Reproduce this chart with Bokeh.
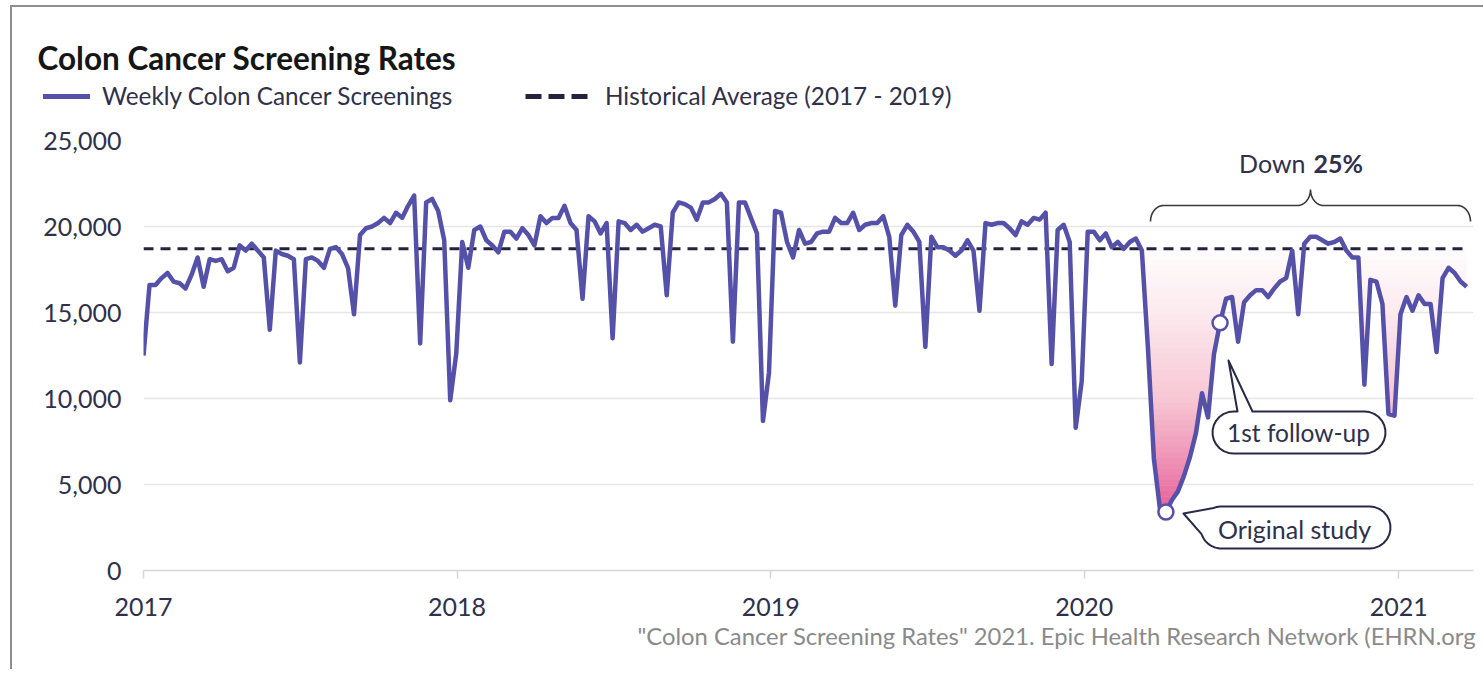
import numpy as np
import pandas as pd
from bokeh.plotting import figure
from bokeh.layouts import column
from bokeh.models import Label, Legend, LegendItem, FixedTicker, NumeralTickFormatter, Range1d
from bokeh.core.properties import value
from bokeh.embed import file_html
from bokeh.resources import INLINE

# ---------------- data (weekly colon cancer screenings) ----------------
weeks_2017 = [12500, 16600, 16600, 17000, 17300, 16800, 16700, 16400, 17200, 18200,
              16500, 18100, 18000, 18100, 17400, 17600, 18900, 18600, 19000, 18600,
              18200, 14000, 18600, 18400, 18300, 18100, 12100, 18100, 18200, 18000,
              17600, 18700, 18800, 18400, 17600, 14900, 19500, 19900, 20000, 20200,
              20500, 20200, 20800, 20500, 21200, 21800, 13200, 21400, 21600, 20900,
              19200, 9900]
weeks_2018 = [12600, 19100, 17600, 19800, 20000, 19200, 18900, 18500, 19700, 19700,
              19300, 19900, 19500, 18900, 20600, 20200, 20500, 20500, 21200, 20200,
              19800, 15800, 20600, 20300, 19600, 20200, 13500, 20300, 20200, 19800,
              20100, 19700, 19900, 20100, 20000, 16000, 20800, 21400, 21300, 21100,
              20400, 21400, 21400, 21600, 21900, 21400, 13300, 21400, 21400, 20500,
              19600, 8700]
weeks_2019 = [11500, 20900, 20800, 19100, 18200, 19800, 19000, 19100, 19600, 19700,
              19700, 20500, 20200, 20200, 20800, 19800, 20100, 20200, 20200, 20600,
              19400, 15400, 19500, 20100, 19700, 19100, 13000, 19400, 18800, 18800,
              18600, 18300, 18600, 19200, 18600, 15100, 20200, 20100, 20200, 20200,
              19900, 19500, 20300, 20100, 20500, 20400, 20800, 12000, 19800, 20100,
              19100, 8300]
weeks_2020 = [11000, 19700, 19700, 19200, 19600, 18800, 19100, 18700, 19100, 19300,
              18600, 13000, 6500, 3600, 3400, 4100, 4600, 5500, 6600, 8000,
              10300, 8900, 12600, 14400, 15800, 15900, 13300, 15600, 16000, 16300,
              16300, 15900, 16400, 16800, 17000, 18600, 14900, 19000, 19400, 19400,
              19200, 19000, 19100, 19300, 18600, 18200, 18200, 10800, 16900, 16800,
              15500, 9100, 9000]
weeks_2021 = [14900, 15900, 15100, 16000, 15500, 15500, 12700, 17000, 17600, 17300,
              16800, 16500]
historical_average = 18700
first_week = "2017-01-01"
year_labels = ["2017", "2018", "2019", "2020", "2021"]
y_tick_values = [0, 5000, 10000, 15000, 20000, 25000]
original_study_week = "2020-04-05"
follow_up_week = "2020-06-07"
covid_start = "2020-03-01"

# ---------------- derived ----------------
values = np.array(weeks_2017 + weeks_2018 + weeks_2019 + weeks_2020 + weeks_2021, dtype=float)
dates = pd.date_range(first_week, periods=len(values), freq="7D")
t = dates.values.astype("datetime64[ms]").astype("int64").astype(float)

def ms(d):
    return float(np.datetime64(pd.Timestamp(d), "ms").astype("int64"))

T0 = ms(first_week)
T1 = T0 + 1548 * 86400000.0
Y0, Y1 = 0, 25000

# page geometry (page px)
ML, MT = 12, 7              # content origin (after margin + 2px border)
W = 1471
HEAD_H = 118                # page y 7 .. 125
MAIN_TOP, MAIN_BOT = 125, 622
FOOT_H = 47
FL, FR, FT, FB = 143, 1473, 140, 570

def tx(px):
    return T0 + (px - FL) / (FR - FL) * (T1 - T0)

def vy(py):
    return (FB - py) / (FB - FT) * (Y1 - Y0) + Y0

PURPLE = "#5551a8"
NAVY = "#23233f"
TEXT = "#30304a"
FONT = "Lato"

# ---------------- header (title + legend) ----------------
head = figure(width=W, height=HEAD_H, x_range=Range1d(0, W), y_range=Range1d(HEAD_H, 0),
              output_backend="svg", toolbar_location=None, title=None,
              x_axis_location=None, y_axis_location=None, min_border=0)
head.frame_align = False
head.grid.visible = False
head.outline_line_color = None
head.text(x=[37 - ML], y=[57 - MT], text=["Colon Cancer Screening Rates"],
          text_font=value(FONT), text_font_size="31.5px", text_font_style="bold",
          text_color="#161616", text_baseline="middle", text_align="left")
leg_line = head.line(x=[-500, -490], y=[-500, -500], line_color=PURPLE, line_width=5,
                     line_cap="round")
leg_dash = head.line(x=[-500, -490], y=[-500, -500], line_color=NAVY, line_width=5,
                     line_dash="16 7")
for rend, label, gx, gw, so in [(leg_line, "Weekly Colon Cancer Screenings", 43, 47, 12),
                                 (leg_dash, "Historical Average (2017 - 2019)", 525, 65, 15)]:
    lg = Legend(items=[LegendItem(label=label, renderers=[rend])],
                location=(gx - ML, HEAD_H - (110 - MT)), orientation="horizontal",
                glyph_width=gw, glyph_height=24, label_height=24, label_standoff=so,
                padding=0, margin=0, spacing=0,
                border_line_color=None, background_fill_alpha=0,
                label_text_font=FONT, label_text_font_size="24.3px", label_text_color=TEXT)
    head.add_layout(lg, "center")

# ---------------- main chart ----------------
MAIN_H = MAIN_BOT - MAIN_TOP
p = figure(width=W, height=MAIN_H, x_axis_type="datetime",
           x_range=Range1d(T0, T1), y_range=Range1d(Y0, Y1),
           output_backend="svg", toolbar_location=None, title=None,
           min_border_left=FL - ML, min_border_right=ML + W - FR,
           min_border_top=FT - MAIN_TOP, min_border_bottom=MAIN_BOT - FB)
p.frame_align = False
p.outline_line_color = None

year_ticks = [ms(y + "-01-01") for y in year_labels]
p.xaxis.ticker = FixedTicker(ticks=year_ticks)
p.xaxis.major_label_overrides = {tk: lab for tk, lab in zip(year_ticks, year_labels)}
p.xaxis.axis_line_color = "#d6d6d6"
p.xaxis.axis_line_width = 1.5
p.xaxis.major_tick_line_color = "#d6d6d6"
p.xaxis.major_tick_line_width = 1.5
p.xaxis.major_tick_out = 8
p.xaxis.major_tick_in = 0
p.xaxis.minor_tick_line_color = None
p.xaxis.major_label_standoff = 19
p.xaxis.major_label_text_font = FONT
p.xaxis.major_label_text_font_size = "25px"
p.xaxis.major_label_text_color = TEXT

p.yaxis.ticker = FixedTicker(ticks=y_tick_values)
p.yaxis.formatter = NumeralTickFormatter(format="0,0")
p.yaxis.axis_line_color = None
p.yaxis.major_tick_line_color = None
p.yaxis.minor_tick_line_color = None
p.yaxis.major_label_standoff = 16
p.yaxis.major_label_text_font = FONT
p.yaxis.major_label_text_font_size = "25px"
p.yaxis.major_label_text_color = TEXT

p.xgrid.visible = False
p.ygrid.grid_line_color = "#e6e6e6"
p.ygrid.grid_line_width = 1.5

# gradient fill between the line and the historical average (2020 onwards)
mask = dates >= pd.Timestamp(covid_start)
tf = np.linspace(t[mask][0], t[mask][-1], 2400)
vf = np.interp(tf, t, values)
stops_v = [3000, 6000, 10000, 15000, historical_average]
stops_c = [(229, 86, 147), (238, 140, 178), (247, 199, 212), (252, 234, 238), (255, 252, 253)]

def grad(v):
    c = [int(round(np.interp(v, stops_v, [s[i] for s in stops_c]))) for i in range(3)]
    return "#%02x%02x%02x" % tuple(c)

levels = np.linspace(3000, historical_average, 50)
for a, b in zip(levels[:-1], levels[1:]):
    y1 = np.clip(vf, a, b)
    top = min(b + 40, historical_average)
    y2 = np.where(vf < b, top, b)
    p.varea(x=tf, y1=y1, y2=y2, fill_color=grad((a + b) / 2), fill_alpha=1)

p.line(x=[t[0], t[-1]], y=[historical_average, historical_average],
       line_color=NAVY, line_width=3, line_dash="10 7")
p.line(x=t, y=values, line_color=PURPLE, line_width=4.5, line_join="round")

# callout bubbles (page px converted to data space)
def arc(cx, cy, rx, ry, a0, a1, n=14):
    a = np.radians(np.linspace(a0, a1, n))
    return list(cx + rx * np.cos(a)), list(cy + ry * np.sin(a))

def bubble_os():
    xs, ys = [], []
    cxl, cxr, cy, r = 1221, 1369, 527, 21
    for seg in [arc(cxl, cy, r, r, 248, 270), arc(cxr, cy, r, r, 270, 450), arc(cxl, cy, r, r, 90, 161.6)]:
        xs += seg[0]; ys += seg[1]
    xs += [1183]; ys += [513]
    return xs, ys

def bubble_fu():
    xs, ys = [1252], [411]
    cxl, cxr, cy, r = 1233, 1364, 432, 21
    for seg in [arc(cxr, cy, r, r, 270, 450), arc(cxl, cy, r, r, 90, 270)]:
        xs += seg[0]; ys += seg[1]
    xs += [1237, 1228]; ys += [411, 360]
    return xs, ys

for bx, by in [bubble_os(), bubble_fu()]:
    p.patch(x=[tx(v) for v in bx], y=[vy(v) for v in by], fill_color="white",
            line_color="#2a2a45", line_width=2, line_join="round")

for wk in [original_study_week, follow_up_week]:
    i = dates.get_loc(pd.Timestamp(wk))
    p.scatter(x=[t[i]], y=[values[i]], size=15, fill_color="white",
              line_color=PURPLE, line_width=2.5)

# brace
L, R, C, yb, yh, yc, rx = 1150, 1470, 1310, 221, 205, 189, 13
bxs, bys = [], []
for seg in [arc(L + rx, yb, rx, yb - yh, 180, 270), arc(C - rx, yc, rx, yh - yc, 90, 0),
            arc(C + rx, yc, rx, yh - yc, 180, 90), arc(R - rx, yb, rx, yb - yh, 270, 360)]:
    bxs += seg[0]; bys += seg[1]
p.line(x=[tx(v) for v in bxs], y=[vy(v) for v in bys], line_color="#3a3a3a", line_width=1.6)

def lab(px, py, text, size="25px", color=TEXT, align="left", baseline="middle", style="normal"):
    p.add_layout(Label(x=tx(px), y=vy(py), text=text, text_font=FONT, text_font_size=size,
                       text_color=color, text_align=align, text_baseline=baseline,
                       text_font_style=style))

lab(1305, 162, "Down", align="right")
lab(1313, 162, "25%", align="left", style="bold")
lab(1298, 432, "1st follow-up", align="center", size="24.5px")
lab(1294, 528, "Original study", align="center")

# ---------------- footer (source) ----------------
foot = figure(width=W, height=FOOT_H, x_range=Range1d(0, W), y_range=Range1d(FOOT_H, 0),
              output_backend="svg", toolbar_location=None, title=None,
              x_axis_location=None, y_axis_location=None, min_border=0)
foot.frame_align = False
foot.grid.visible = False
foot.outline_line_color = None
foot.text(x=[637 - ML], y=[635 - MAIN_BOT],
          text=['"Colon Cancer Screening Rates" 2021. Epic Health Research Network (EHRN.org'],
          text_font=value(FONT), text_font_size="23.8px", text_color="#8a8a8a",
          text_baseline="middle", text_align="left")

layout = column(head, p, foot, spacing=0)
layout.styles = {"margin-left": "10px", "margin-top": "5px",
                 "border-left": "2px solid #8e8e8e", "border-top": "2px solid #8e8e8e"}

open("out.html", "w").write(file_html(layout, INLINE))
